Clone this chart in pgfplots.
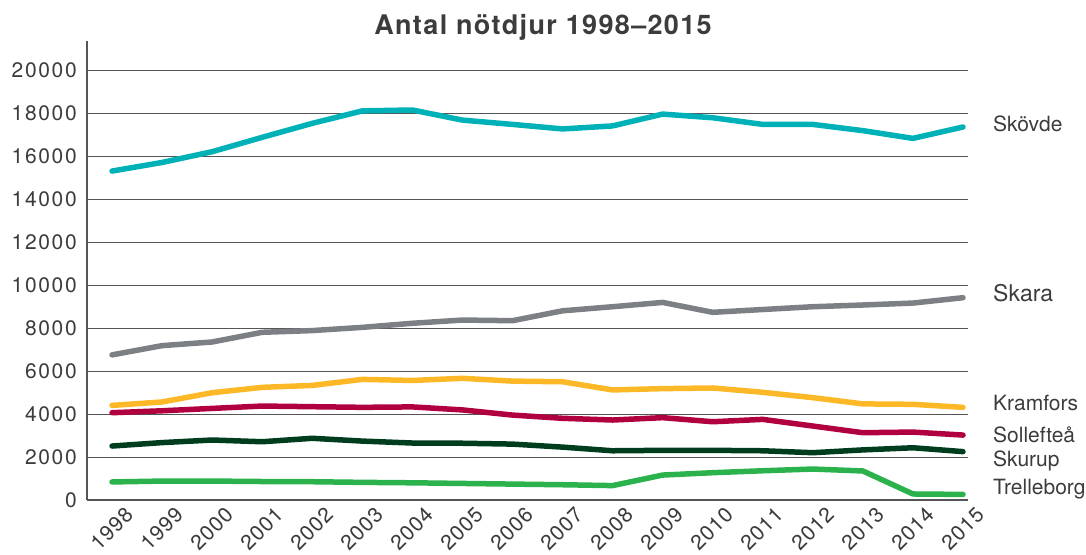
\documentclass[border=0pt]{standalone}
\usepackage{fontspec}
\setmainfont{TeX Gyre Heros}
\newfontfamily\ticklab{TeX Gyre Heros}[LetterSpace=8]
\newfontfamily\xticklab{TeX Gyre Heros}[LetterSpace=5]
\newfontfamily\titlefont{TeX Gyre Heros}[LetterSpace=5]
\usepackage{pgfplots}
\pgfplotsset{compat=1.18}
\definecolor{cskovde}{HTML}{00B2B8}
\definecolor{cskara}{HTML}{7C7F84}
\definecolor{ckramfors}{HTML}{FDB827}
\definecolor{csolleftea}{HTML}{B00040}
\definecolor{cskurup}{HTML}{003D1F}
\definecolor{ctrelleborg}{HTML}{2BB24C}
\definecolor{textgray}{HTML}{3C3C3C}
\definecolor{gridgray}{HTML}{555555}
\begin{document}
\begin{tikzpicture}
\begin{axis}[
  scale only axis, width=881pt, height=459pt,
  xmin=1997.5, xmax=2015.1, ymin=0, ymax=21350,
  axis lines=left,
  axis line style={-, draw=gridgray, line width=1.2pt},
  ymajorgrids, grid style={gridgray, line width=0.9pt},
  major tick length=0pt,
  xtick={1998,...,2015},
  ytick={0,2000,...,20000},
  scaled y ticks=false, scaled x ticks=false,
  /pgf/number format/.cd, 1000 sep={}, assume math mode=true, /pgfplots/.cd,
  yticklabel style={font=\ticklab\fontsize{21}{21}\selectfont, text=textgray, inner sep=0pt, xshift=-10pt},
  xticklabel style={font=\xticklab\fontsize{21}{21}\selectfont, text=textgray, inner sep=0pt, xshift=12pt, yshift=-5pt, rotate=45, anchor=north east},
  clip=false,
  every axis plot/.append style={line width=5.5pt, line cap=round, line join=round, mark=none},
]
% Skovde
\addplot[cskovde] coordinates {(1998,15300)(1999,15700)(2000,16200)(2001,16870)(2002,17520)(2003,18100)(2004,18140)(2005,17670)(2006,17470)(2007,17260)(2008,17400)(2009,17950)(2010,17780)(2011,17470)(2012,17470)(2013,17180)(2014,16820)(2015,17350)};
% Skara
\addplot[cskara] coordinates {(1998,6750)(1999,7180)(2000,7350)(2001,7800)(2002,7880)(2003,8030)(2004,8220)(2005,8370)(2006,8340)(2007,8800)(2008,8990)(2009,9190)(2010,8730)(2011,8860)(2012,8990)(2013,9070)(2014,9160)(2015,9410)};
% Kramfors
\addplot[ckramfors] coordinates {(1998,4400)(1999,4560)(2000,4990)(2001,5240)(2002,5330)(2003,5610)(2004,5560)(2005,5660)(2006,5530)(2007,5500)(2008,5120)(2009,5180)(2010,5210)(2011,5010)(2012,4760)(2013,4470)(2014,4450)(2015,4310)};
% Solleftea
\addplot[csolleftea] coordinates {(1998,4060)(1999,4150)(2000,4260)(2001,4370)(2002,4340)(2003,4310)(2004,4330)(2005,4190)(2006,3950)(2007,3800)(2008,3720)(2009,3830)(2010,3640)(2011,3750)(2012,3440)(2013,3130)(2014,3160)(2015,3020)};
% Skurup
\addplot[cskurup] coordinates {(1998,2510)(1999,2670)(2000,2790)(2001,2710)(2002,2870)(2003,2740)(2004,2650)(2005,2640)(2006,2600)(2007,2460)(2008,2290)(2009,2310)(2010,2310)(2011,2290)(2012,2200)(2013,2330)(2014,2430)(2015,2250)};
% Trelleborg
\addplot[ctrelleborg] coordinates {(1998,840)(1999,880)(2000,880)(2001,860)(2002,850)(2003,820)(2004,800)(2005,770)(2006,740)(2007,710)(2008,670)(2009,1160)(2010,1270)(2011,1360)(2012,1440)(2013,1350)(2014,280)(2015,260)};

\node[anchor=base, text=textgray, font=\titlefont\bfseries\fontsize{27}{27}\selectfont] at (rel axis cs:0.5176,1.0131) {Antal nötdjur 1998–2015};
\begin{scope}[every node/.style={anchor=base west, text=textgray, inner sep=0pt, font=\fontsize{21}{21}\selectfont}]
\node at (axis cs:2015.6,17163) {Skövde};
\node[font=\fontsize{23}{23}\selectfont] at (axis cs:2015.6,9223) {Skara};
\node at (axis cs:2015.6,4155) {Kramfors};
\node at (axis cs:2015.6,2667) {Sollefteå};
\node at (axis cs:2015.6,1550) {Skurup};
\node at (axis cs:2015.6,233) {Trelleborg};
\end{scope}
\end{axis}
\pgfresetboundingbox
\path (current axis.south west) ++(-87pt,-54pt) rectangle ++(1086pt,554pt);
\end{tikzpicture}
\end{document}
